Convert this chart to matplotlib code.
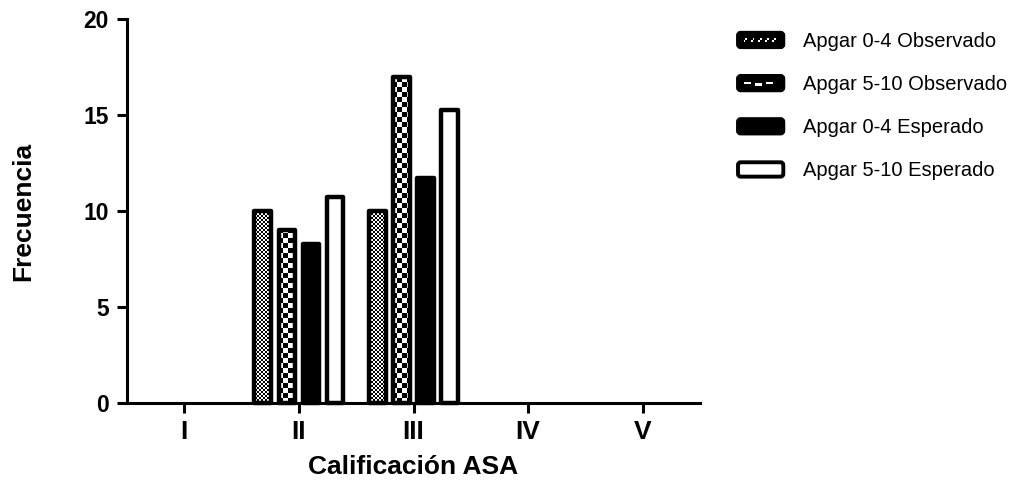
import numpy as np
import matplotlib
matplotlib.use("Agg")
import matplotlib.pyplot as plt
from matplotlib.patches import Rectangle, FancyBboxPatch
from matplotlib.legend_handler import HandlerBase

categories = ["I", "II", "III", "IV", "V"]
series_labels = ["Apgar 0-4 Observado", "Apgar 5-10 Observado",
                 "Apgar 0-4 Esperado", "Apgar 5-10 Esperado"]
obs_0_4 = [0, 10, 10, 0, 0]
obs_5_10 = [0, 9, 17, 0, 0]
esp_0_4 = [0, 8.26, 11.74, 0, 0]
esp_5_10 = [0, 10.74, 15.26, 0, 0]
y_ticks = [0, 5, 10, 15, 20]

plt.rcParams['font.family'] = ['Liberation Sans', 'DejaVu Sans']

W, H, DPI = 1021, 491, 100
fig = plt.figure(figsize=(W / DPI, H / DPI), dpi=DPI)
ax = fig.add_axes([127 / W, 1 - 403 / H, (700 - 127) / W, (403 - 19) / H])

x = np.arange(len(categories))
series = [obs_0_4, obs_5_10, esp_0_4, esp_5_10]
kinds = ["fine", "coarse", "solid", "open"]
offsets = [-0.315, -0.105, 0.105, 0.315]
width = 0.145
edge_lw = 3.2


def checker(cell):
    # pixel-level checkerboard covering the whole axes area
    nx, ny = 573, 384
    j, i = np.meshgrid(np.arange(nx), np.arange(ny))
    return ((i // cell + j // cell) % 2).astype(float)


for vals, kind, off in zip(series, kinds, offsets):
    vals = np.array(vals, dtype=float)
    keep = vals > 0  # empty categories get no bar at all
    xs, hs = x[keep] + off, vals[keep]
    face = "black" if kind == "solid" else "white"
    bars = ax.bar(xs, hs, width, color=face, edgecolor="none", zorder=1)
    if kind in ("fine", "coarse"):
        pattern = checker(2 if kind == "fine" else 5)
        for b in bars:
            im = ax.imshow(pattern, cmap="gray", vmin=0, vmax=1, origin="lower",
                           extent=(-0.5, 4.5, 0, 20), aspect="auto",
                           interpolation="nearest", zorder=2)
            im.set_clip_path(b)
    ax.bar(xs, hs, width, fill=False, edgecolor="black", linewidth=edge_lw,
           joinstyle="round", zorder=3, clip_on=False)

ax.set_xlim(-0.5, 4.5)
ax.set_ylim(0, 20)
ax.set_xticks(x)
ax.set_xticklabels(categories, fontsize=19, fontweight="bold")
ax.set_yticks(y_ticks)
ax.set_yticklabels([str(t) for t in y_ticks], fontsize=16.5, fontweight="bold")
ax.tick_params(axis="both", direction="out", length=7, width=2.2, pad=5)
ax.tick_params(axis="y", pad=6)

for side in ("top", "right"):
    ax.spines[side].set_visible(False)
for side in ("left", "bottom"):
    ax.spines[side].set_linewidth(2.2)
    ax.spines[side].set_zorder(4)

ax.set_xlabel("Calificación ASA", fontsize=19, fontweight="bold")
ax.xaxis.set_label_coords(0.5, -0.135)
ax.set_ylabel("Frecuencia", fontsize=19, fontweight="bold")
ax.yaxis.set_label_coords(-0.16, 0.5)


class LegendKey:
    def __init__(self, kind):
        self.kind = kind


class BarHandle(HandlerBase):
    def create_artists(self, legend, orig_handle, xdescent, ydescent,
                       width, height, fontsize, trans):
        x0, y0 = -xdescent, -ydescent
        kind = orig_handle.kind
        face = "white" if kind == "open" else "black"
        arts = [FancyBboxPatch((x0, y0), width, height,
                               boxstyle="round,pad=0,rounding_size=2",
                               facecolor=face, edgecolor="black", linewidth=2.8,
                               transform=trans)]
        yc = y0 + height / 2
        if kind == "fine":
            s = 1.3
            xs = np.arange(x0 + 4, x0 + width - 4, 2 * s)
            for k, xx in enumerate(xs):
                if k % 2 == 0:
                    arts.append(Rectangle((xx, yc - s), s, s, facecolor="white",
                                          edgecolor="none", transform=trans))
                    arts.append(Rectangle((xx + s, yc), s, s, facecolor="white",
                                          edgecolor="none", transform=trans))
        elif kind == "coarse":
            for k, xx in enumerate(np.arange(x0 + 4, x0 + width - 6, 8)):
                dy = -1.2 if k % 2 else 0
                arts.append(Rectangle((xx, yc - 0.6 + dy), 5, 1.6, facecolor="white",
                                      edgecolor="none", transform=trans))
        return arts


keys = [LegendKey(k) for k in kinds]
fig.legend(keys, series_labels, handler_map={LegendKey: BarHandle()},
           loc="upper left", bbox_to_anchor=(738 / W, 1 - 32 / H),
           frameon=False, fontsize=14.5, handlelength=2.25, handleheight=0.72,
           handletextpad=1.0, labelspacing=1.2, borderpad=0, borderaxespad=0)

fig.savefig("out.png", dpi=DPI)
